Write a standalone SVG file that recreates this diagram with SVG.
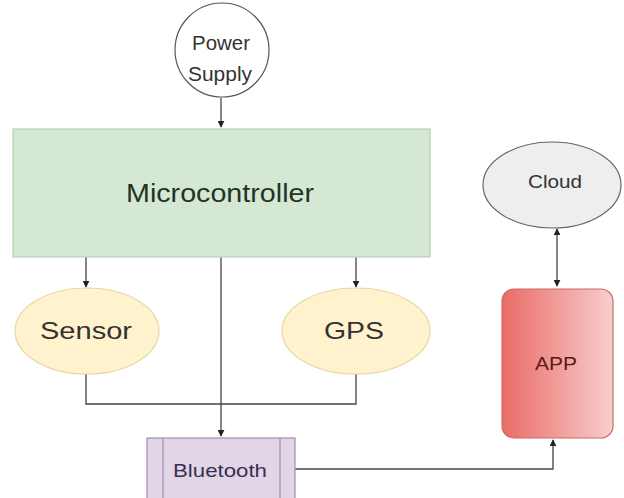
<svg xmlns="http://www.w3.org/2000/svg" width="624" height="498" viewBox="0 0 624 498">
<style>
text{font-family:"Liberation Sans",Arial,sans-serif;text-anchor:middle;fill:#333}
.edge{fill:none;stroke:#444;stroke-width:1.3}
</style>
<defs>
<marker id="ah" viewBox="0 0 10 10" refX="9" refY="5" markerWidth="7" markerHeight="7" orient="auto-start-reverse" markerUnits="userSpaceOnUse">
<path d="M0,0 L10,5 L0,10 z" fill="#222"/>
</marker>
<linearGradient id="appg" x1="0" y1="0" x2="1" y2="0">
<stop offset="0" stop-color="#ea6b66"/>
<stop offset="1" stop-color="#f8cecc"/>
</linearGradient>
</defs>
<rect width="624" height="498" fill="#fff"/>
<g id="connectors">
<path class="edge" d="M221,98 V127" marker-end="url(#ah)"/>
<path class="edge" d="M86,257 V287" marker-end="url(#ah)"/>
<path class="edge" d="M356,257 V287" marker-end="url(#ah)"/>
<path class="edge" d="M221,257 V436" marker-end="url(#ah)"/>
<path class="edge" d="M86,374 V404 H356 V374"/>
<path class="edge" d="M295,469 H553 V440" marker-end="url(#ah)"/>
<path class="edge" d="M557,229 V286" marker-start="url(#ah)" marker-end="url(#ah)"/>
</g>
<g id="power">
<ellipse cx="222" cy="50" rx="47" ry="47" fill="#fff" stroke="#555" stroke-width="1.2"/>
<text x="221" y="50" font-size="20" textLength="58" lengthAdjust="spacingAndGlyphs">Power</text>
<text x="220" y="81" font-size="20" textLength="64" lengthAdjust="spacingAndGlyphs">Supply</text>
</g>
<g id="micro">
<rect x="13" y="129" width="417" height="128" fill="#d5e8d4" stroke="#b9cfb8" stroke-width="1.2"/>
<text x="220" y="202" font-size="25" textLength="188" lengthAdjust="spacingAndGlyphs" style="fill:#243424">Microcontroller</text>
</g>
<g id="sensor">
<ellipse cx="87" cy="331" rx="72" ry="43" fill="#fff2cc" stroke="#e6d6a8" stroke-width="1.2"/>
<text x="86" y="339" font-size="24" textLength="92" lengthAdjust="spacingAndGlyphs">Sensor</text>
</g>
<g id="gps">
<ellipse cx="356" cy="331" rx="74" ry="43" fill="#fff2cc" stroke="#e6d6a8" stroke-width="1.2"/>
<text x="354" y="339" font-size="24" textLength="60" lengthAdjust="spacingAndGlyphs">GPS</text>
</g>
<g id="bluetooth">
<rect x="147" y="438" width="148" height="64" fill="#e1d5e7" stroke="#a58bb3" stroke-width="1.2"/>
<line x1="163" y1="438" x2="163" y2="502" stroke="#a58bb3" stroke-width="1.2"/>
<line x1="280" y1="438" x2="280" y2="502" stroke="#a58bb3" stroke-width="1.2"/>
<text x="220" y="477" font-size="19" textLength="94" lengthAdjust="spacingAndGlyphs" style="fill:#3a3050">Bluetooth</text>
</g>
<g id="cloud">
<ellipse cx="552" cy="185" rx="69" ry="43" fill="#eeeeee" stroke="#666" stroke-width="1.2"/>
<text x="555" y="188" font-size="18" textLength="54" lengthAdjust="spacingAndGlyphs">Cloud</text>
</g>
<g id="app">
<rect x="502" y="289" width="111" height="149" rx="12" fill="url(#appg)" stroke="#c96b68" stroke-width="1.2"/>
<text x="556" y="370" font-size="19" textLength="42" lengthAdjust="spacingAndGlyphs" style="fill:#5a1a1a">APP</text>
</g>
</svg>
